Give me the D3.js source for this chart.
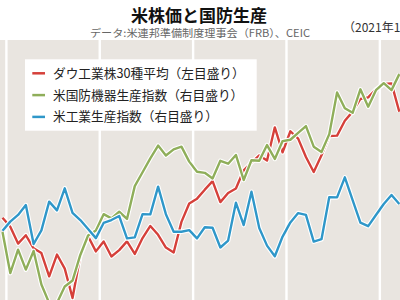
<!DOCTYPE html>
<html><head><meta charset="utf-8">
<script src="https://cdn.jsdelivr.net/npm/d3@7"></script>
<style>
html,body{margin:0;padding:0;background:#fff;}
svg{display:block;font-family:"Noto Sans CJK JP","Noto Sans",sans-serif;}
</style></head>
<body><svg id="c" width="400" height="300"></svg>
<script>
// Monthly categories: Dec 2021 .. Mar 2026
const months = d3.timeMonth.range(new Date(2021, 11, 1), new Date(2026, 3, 1));
// Dow Jones Industrial Average (left scale)
const dow = [36340, 35490, 33890, 34680, 33440, 32990, 30780, 32850, 31510, 28730,
  32730, 34590, 33150, 34090, 32660, 33270, 34100, 32910, 34410, 35560,
  34720, 33510, 33050, 35950, 37690, 38150, 39000, 39810, 37820, 38690,
  39120, 40840, 41560, 42250, 41760, 44910, 42540, 44540, 43840, 42100,
  40670, 42270, 44090, 44130, 45540, 46400, 47600, 47750, 48510, 49020,
  49080, 46390];
// US defense equipment production index (right scale)
const defense = [103.40, 101.86, 102.74, 101.99, 102.69, 101.43, 100.74, 100.74, 101.36, 101.58,
  102.54, 103.27, 103.46, 104.07, 103.91, 104.16, 103.89, 105.12, 105.64, 106.16,
  106.64, 106.27, 106.50, 106.60, 106.04, 105.66, 105.62, 105.41, 106.07, 105.96,
  106.29, 105.35, 106.09, 106.07, 106.66, 106.14, 106.81, 106.86, 107.12, 107.37,
  106.60, 106.40, 107.07, 108.63, 108.04, 107.87, 108.75, 108.10, 108.72, 108.98,
  108.72, 109.32];
// US industrial production index (right scale)
const industrial = [103.45, 103.79, 104.04, 104.41, 102.95, 103.46, 104.54, 104.21, 105.04, 104.12,
  103.85, 103.51, 103.17, 103.74, 103.85, 104.00, 103.16, 103.20, 104.07, 104.06,
  105.10, 104.07, 103.41, 103.41, 103.47, 103.16, 103.58, 103.56, 102.82, 103.08,
  104.50, 103.66, 104.91, 103.55, 102.89, 102.49, 103.23, 103.76, 104.11, 104.04,
  103.04, 103.13, 104.71, 104.70, 105.45, 104.60, 103.75, 103.62, 104.04, 104.45,
  104.79, 104.45];
const seriesNames = ["ダウ工業株30種平均（左目盛り）", "米国防機器生産指数（右目盛り）", "米工業生産指数（右目盛り）"];
const seriesColors = ["#d5403a", "#8fae5a", "#2f97c9"];
const titleText = "米株価と国防生産";
const sourceText = "データ:米連邦準備制度理事会（FRB）、CEIC";
const unitText = "（2021年1月＝100）";

const svg = d3.select("#c");
const plotTop = 40, plotBottom = 300;

const x = d3.scaleLinear().domain([0, months.length - 1]).range([2.5, 399.3]);
const yL = d3.scaleLinear().domain([30000, 45000]).range([284.6, 126.4]);
const yR = d3.scaleLinear().domain([100, 110]).range([322.7, 56]);

// plot background
svg.append("rect").attr("x", 0).attr("y", plotTop).attr("width", 400)
  .attr("height", plotBottom - plotTop).attr("fill", "#e9e5e0");

// year gridlines (between December and January)
const yearIdx = months.map((m, i) => m.getMonth() === 0 ? i : null).filter(v => v !== null);
svg.selectAll("line.grid").data(yearIdx).join("line")
  .attr("class", "grid")
  .attr("x1", d => x(d - 0.5)).attr("x2", d => x(d - 0.5))
  .attr("y1", plotTop).attr("y2", plotBottom)
  .attr("stroke", "#fff").attr("stroke-width", 2.4);

const clip = svg.append("clipPath").attr("id", "pc");
clip.append("rect").attr("x", 0).attr("y", plotTop).attr("width", 400).attr("height", plotBottom - plotTop);

const series = [
  {vals: dow, y: yL, color: seriesColors[0]},
  {vals: defense, y: yR, color: seriesColors[1]},
  {vals: industrial, y: yR, color: seriesColors[2]}
];
const g = svg.append("g").attr("clip-path", "url(#pc)");
series.forEach(s => {
  const line = d3.line().x((d, i) => x(i)).y(d => s.y(d));
  g.append("path").attr("d", line(s.vals)).attr("fill", "none")
    .attr("stroke", "#fff").attr("stroke-width", 4.6).attr("stroke-linejoin", "round");
  g.append("path").attr("d", line(s.vals)).attr("fill", "none")
    .attr("stroke", s.color).attr("stroke-width", 2.4).attr("stroke-linejoin", "round");
});

// legend
svg.append("rect").attr("x", 25).attr("y", 59.3).attr("width", 231.7).attr("height", 71.4).attr("fill", "#fff");
seriesNames.forEach((name, i) => {
  const cy = 73.3 + i * 21.8;
  svg.append("line").attr("x1", 32.3).attr("x2", 45).attr("y1", cy).attr("y2", cy)
    .attr("stroke", seriesColors[i]).attr("stroke-width", 2.5);
  svg.append("text").attr("x", 53).attr("y", cy).attr("dy", "0.36em")
    .attr("font-size", 12.7).attr("fill", "#222").text(name);
});

// titles
svg.append("text").attr("x", 199).attr("y", 22).attr("text-anchor", "middle")
  .attr("font-size", 17).attr("font-weight", "bold").attr("fill", "#111").text(titleText);
svg.append("text").attr("x", 90).attr("y", 36.5).attr("font-size", 10.5)
  .attr("fill", "#666").attr("textLength", 220).attr("lengthAdjust", "spacingAndGlyphs").text(sourceText);
svg.append("text").attr("x", 343).attr("y", 32).attr("font-size", 12)
  .attr("fill", "#333").text(unitText);
</script></body></html>
